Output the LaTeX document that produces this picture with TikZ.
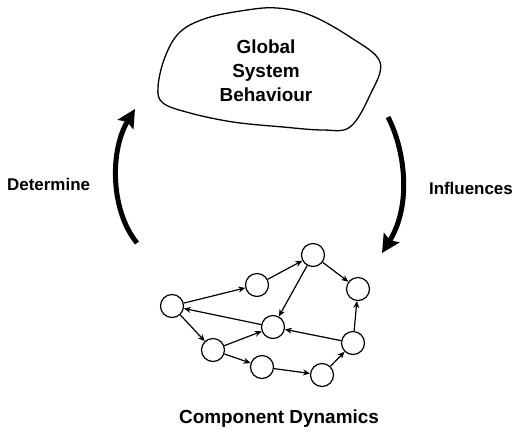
\documentclass[tikz,border=0pt]{standalone}
\usepackage{fontspec}
\setmainfont{Liberation Sans}
\usetikzlibrary{arrows.meta}
\tikzset{
  comp/.style={circle,draw,line width=1.2bp,minimum size=23bp,inner sep=0pt},
  link/.style={line width=1.2bp,-{Stealth[length=7bp,width=6bp]}},
  bigarrow/.style={line width=5bp,-{Stealth[length=18bp,width=18bp,inset=3bp]}},
  lbl/.style={font=\bfseries\fontsize{17}{20}\selectfont,inner sep=0pt},
  title/.style={font=\bfseries\fontsize{19}{24}\selectfont,inner sep=0pt,align=center}
}
\begin{document}
\begin{tikzpicture}[x=1bp,y=-1bp]
\useasboundingbox (0,0) rectangle (515,430);
% blob
\draw[line width=1.3bp] plot[smooth cycle,tension=0.6] coordinates {
 (158,87) (165,57) (180,32) (207,18) (247,10) (277,8) (310,15) (350,37)
 (380,62) (370,95) (350,127) (323,130) (283,127) (233,122) (190,113) (163,103)};
\node[title] (gsb) at (266,71) {Global\\System\\Behaviour};
% big arrows
\coordinate (dl0) at (137,243);
\coordinate (dl1) at (135,109);
\draw[bigarrow] (dl0) .. controls (110,210) and (110,150) .. (dl1);
\coordinate (ir0) at (388,117);
\coordinate (ir1) at (382,253);
\draw[bigarrow] (ir0) .. controls (405,150) and (412,205) .. (ir1);
\node[lbl,anchor=west] (det) at (7,184) {Determine};
\node[lbl,anchor=east] (inf) at (513,188) {Influences};
% network
\node[comp] (A) at (172,306) {};
\node[comp] (B) at (257,285) {};
\node[comp] (C) at (313,255) {};
\node[comp] (D) at (358,289) {};
\node[comp] (E) at (273,327) {};
\node[comp] (F) at (213,350) {};
\node[comp] (G) at (262,367) {};
\node[comp] (H) at (322,375) {};
\node[comp] (I) at (353,343) {};
\draw[link] (A) -- (B);
\draw[link] (B) -- (C);
\draw[link] (C) -- (D);
\draw[link] (C) -- (E);
\draw[link] (E) -- (A);
\draw[link] (A) -- (F);
\draw[link] (F) -- (E);
\draw[link] (I) -- (E);
\draw[link] (I) -- (D);
\draw[link] (F) -- (G);
\draw[link] (G) -- (H);
\draw[link] (H) -- (I);
\node[title,anchor=base] (cd) at (279,423) {Component Dynamics};
\end{tikzpicture}
\end{document}
